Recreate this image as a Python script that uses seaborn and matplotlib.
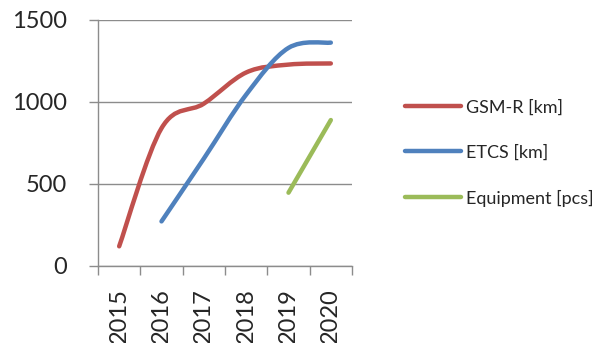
import numpy as np
import pandas as pd
import matplotlib
matplotlib.use("Agg")
import matplotlib.pyplot as plt
from matplotlib.path import Path
from matplotlib.patches import PathPatch
from matplotlib.lines import Line2D
import seaborn as sns

years = ["2015", "2016", "2017", "2018", "2019", "2020"]
gsmr_years = ["2015", "2016", "2017", "2018", "2019", "2020"]
gsmr_km = [120, 840, 990, 1180, 1228, 1235]
etcs_years = ["2016", "2017", "2018", "2019", "2020"]
etcs_km = [272, 655, 1045, 1330, 1362]
equip_years = ["2019", "2020"]
equip_pcs = [447, 890]

series_names = ["GSM-R [km]", "ETCS [km]", "Equipment [pcs]"]
colors = ["#C0504D", "#4F81BD", "#9BBB59"]

rows = []
for name, yrs, vals in zip(series_names, [gsmr_years, etcs_years, equip_years],
                           [gsmr_km, etcs_km, equip_pcs]):
    for y, v in zip(yrs, vals):
        rows.append({"series": name, "pos": years.index(y), "value": v})
df = pd.DataFrame(rows)

sns.set_theme(style="white")
plt.rcParams["font.family"] = ["Lato", "DejaVu Sans"]

fig = plt.figure(figsize=(6.06, 3.43), dpi=100)
ax = fig.add_axes([98 / 606, 1 - 266 / 343, (352 - 98) / 606, (266 - 20) / 343])

sns.lineplot(data=df, x="pos", y="value", hue="series", hue_order=series_names,
             palette=colors, ax=ax, legend=False, linewidth=3.2)
for ln in ax.lines:
    ln.set_visible(False)


def smooth_path(xs, ys):
    pts = np.column_stack([xs, ys]).astype(float)
    n = len(pts)
    verts = [pts[0]]
    codes = [Path.MOVETO]
    for i in range(n - 1):
        p0 = pts[max(i - 1, 0)]
        p1 = pts[i]
        p2 = pts[i + 1]
        p3 = pts[min(i + 2, n - 1)]
        c1 = p1 + (p2 - p0) / 6.0
        c2 = p2 - (p3 - p1) / 6.0
        verts += [c1, c2, p2]
        codes += [Path.CURVE4] * 3
    return Path(verts, codes)


for name, col in zip(series_names, colors):
    sub = df[df["series"] == name].sort_values("pos")
    path = smooth_path(sub["pos"].values, sub["value"].values)
    ax.add_patch(PathPatch(path, facecolor="none", edgecolor=col, lw=3.2,
                           capstyle="round", joinstyle="round", zorder=3))

ax.set_xlim(-0.5, 5.5)
ax.set_ylim(0, 1500)
ax.set_yticks([0, 500, 1000, 1500])
ax.set_xticks(range(len(years)))
ax.set_xticklabels(years, rotation=90)
ax.set_xticks(np.arange(-0.5, 6.0, 1.0), minor=True)
ax.set_xlabel("")
ax.set_ylabel("")

ax.grid(axis="y", color="#8C8C8C", linewidth=1.0)
ax.grid(axis="x", visible=False)
ax.set_axisbelow(True)
for s in ["top", "right"]:
    ax.spines[s].set_visible(False)
for s in ["left", "bottom"]:
    ax.spines[s].set_visible(True)
    ax.spines[s].set_color("#8C8C8C")
    ax.spines[s].set_linewidth(1.0)

ax.tick_params(axis="y", which="major", left=True, length=6.5, width=1.0,
               color="#8C8C8C", pad=16, labelsize=17, labelcolor="#262626")
ax.tick_params(axis="x", which="major", length=0, pad=16, labelsize=17,
               labelcolor="#262626")
ax.tick_params(axis="x", which="minor", bottom=True, length=6.5, width=1.0,
               color="#8C8C8C")

handles = [Line2D([0], [0], color=c, lw=3.2) for c in colors]
fig.legend(handles, series_names, loc="center left",
           bbox_to_anchor=(405 / 606, 1 - 153 / 343), frameon=False,
           fontsize=13, handlelength=3.1, handletextpad=0.3,
           labelspacing=1.6, borderpad=0, borderaxespad=0,
           labelcolor="#262626")

fig.savefig("out.png", dpi=100)
